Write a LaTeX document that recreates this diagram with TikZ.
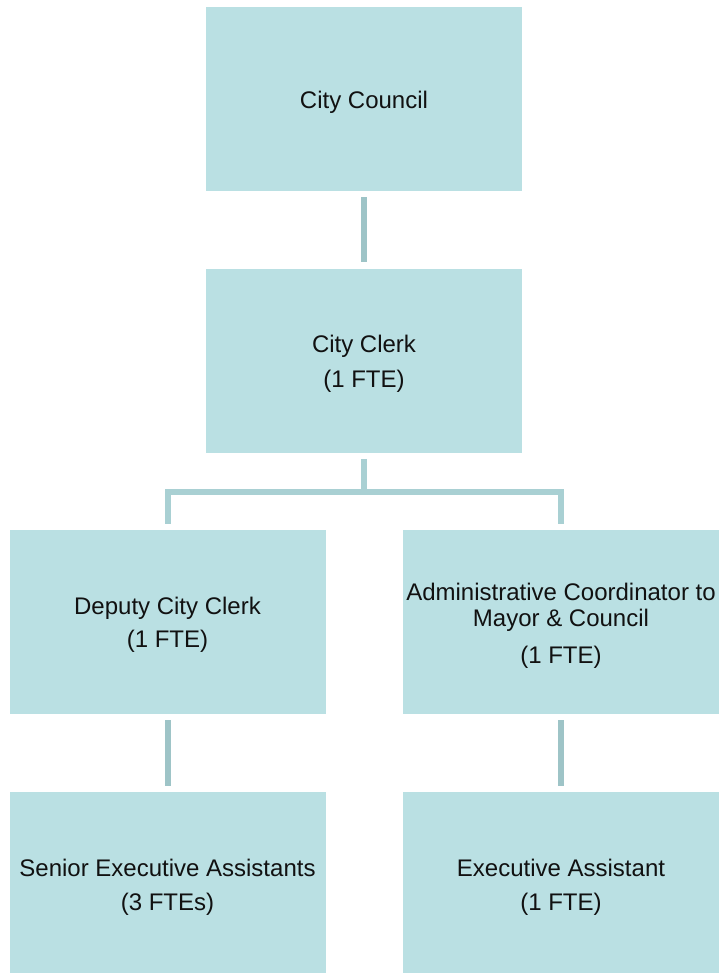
\documentclass[tikz,border=0pt]{standalone}
\usepackage{fontspec}
\setmainfont{Liberation Sans}
\definecolor{boxfill}{HTML}{BAE0E3}
\definecolor{connA}{HTML}{9EC4C7}
\definecolor{connB}{HTML}{A9D0D3}
\definecolor{txt}{HTML}{111111}
\begin{document}
\begin{tikzpicture}[x=0.5pt,y=-0.5pt,
  orgbox/.style={fill=boxfill, draw=none, minimum width=158pt, minimum height=92pt,
    inner sep=0pt},
  boxtext/.style={inner sep=0pt, align=center, text=txt, font=\fontsize{12}{13}\selectfont},
  conn/.style={line width=3pt, connA, line join=miter},
  branch/.style={line width=3pt, connB, line join=miter}]
\useasboundingbox (0,0) rectangle (720,973);
\begin{scope}
\clip (0,0) rectangle (720,973);
\node[orgbox] (council) at (364,99) {};
\node[orgbox] (clerk) at (364,360.5) {};
\node[orgbox] (deputy) at (167.5,622) {};
\node[orgbox] (admin) at (561,622) {};
\node[orgbox] (senior) at (167.5,884) {};
\node[orgbox] (exec) at (561,884) {};
\end{scope}
\node[boxtext] (councilT) at ([yshift=-1.5pt]council.center) {City Council};
\node[boxtext] (clerkT) at ([yshift=-1.8pt]clerk.center) {City Clerk\\[4.5pt](1 FTE)};
\node[boxtext] (deputyT) at ([yshift=-1.5pt]deputy.center) {Deputy City Clerk\\[3.5pt](1 FTE)};
\node[boxtext] (adminT) at ([yshift=-2pt]admin.center) {Administrative Coordinator to\\Mayor \& Council\\[5.5pt](1 FTE)};
\node[boxtext] (seniorT) at ([yshift=-1.5pt]senior.center) {Senior Executive Assistants\\[4pt](3 FTEs)};
\node[boxtext] (execT) at ([yshift=-1.5pt]exec.center) {Executive Assistant\\[4pt](1 FTE)};
\coordinate (bus) at ([yshift=-19.5pt]clerk.south);
\draw[conn] ([yshift=-3pt]council.south) -- ([yshift=3pt]clerk.north);
\draw[branch] ([yshift=-3pt]clerk.south) -- (bus);
\draw[branch] ([yshift=3pt]deputy.north) |- (bus) -| ([yshift=3pt]admin.north);
\draw[conn] ([yshift=-3pt]deputy.south) -- ([yshift=3pt]senior.north);
\draw[conn] ([yshift=-3pt]admin.south) -- ([yshift=3pt]exec.north);
\end{tikzpicture}
\end{document}
